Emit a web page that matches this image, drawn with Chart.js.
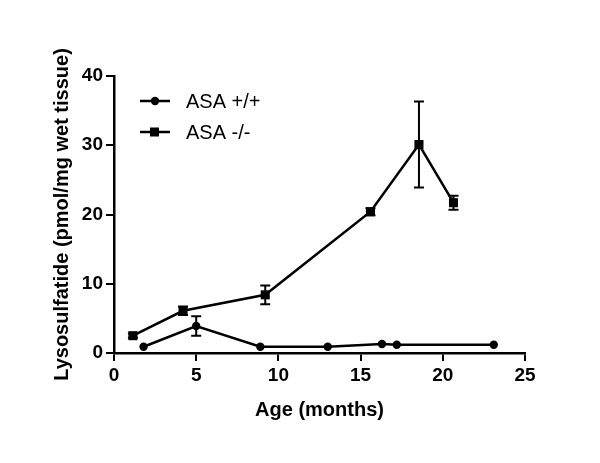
<!DOCTYPE html>
<html>
<head>
<meta charset="utf-8">
<script src="https://cdn.jsdelivr.net/npm/chart.js@4/dist/chart.umd.min.js"></script>
<style>
    html, body { margin: 0; padding: 0; background: #fff; }
    #wrap { width: 600px; height: 463px; }
</style>
</head>
<body>
<div id="wrap"><canvas id="lysoChart"></canvas></div>
<script>

// ASA +/+
const wtAge = [1.8, 5.0, 8.9, 13.0, 16.3, 17.2, 23.1];
const wtValue = [0.9, 3.9, 0.9, 0.9, 1.3, 1.2, 1.2];
const wtError = [0, 1.4, 0, 0, 0, 0, 0];

// ASA -/-
const koAge = [1.15, 4.2, 9.2, 15.6, 18.55, 20.65];
const koValue = [2.5, 6.1, 8.4, 20.4, 30.1, 21.7];
const koError = [0.3, 0.6, 1.35, 0.5, 6.2, 1.0];

const seriesLabels = ['ASA +/+', 'ASA -/-'];
const xTicks = [0, 5, 10, 15, 20, 25];
const yTicks = [0, 10, 20, 30, 40];

const toPoints = (xs, ys) => xs.map((x, i) => ({ x: x, y: ys[i] }));

const fontFamily = 'Arial, "Liberation Sans", Helvetica, sans-serif';


// Error bars, drawn through the scales
const errorBars = {
    id: 'errorBars',
    afterDatasetsDraw(chart) {
        const { ctx, scales: { x, y } } = chart;
        ctx.save();
        ctx.strokeStyle = '#000';
        ctx.lineWidth = 2;
        chart.data.datasets.forEach(ds => {
            ds.data.forEach((p, i) => {
                const err = ds.errors[i];
                if (!err) return;
                const px = x.getPixelForValue(p.x);
                const top = y.getPixelForValue(p.y + err);
                const bot = y.getPixelForValue(p.y - err);
                ctx.beginPath();
                ctx.moveTo(px, top);
                ctx.lineTo(px, bot);
                ctx.moveTo(px - 5, top);
                ctx.lineTo(px + 5, top);
                ctx.moveTo(px - 5, bot);
                ctx.lineTo(px + 5, bot);
                ctx.stroke();
            });
        });
        ctx.restore();
    }
};

// Legend inside the plot, line + marker
const insideLegend = {
    id: 'insideLegend',
    afterDraw(chart) {
        const { ctx } = chart;
        ctx.save();
        chart.data.datasets.forEach((ds, i) => {
            const cy = 101 + i * 31;
            ctx.strokeStyle = '#000';
            ctx.lineWidth = 2.5;
            ctx.beginPath();
            ctx.moveTo(140, cy);
            ctx.lineTo(170, cy);
            ctx.stroke();
            ctx.fillStyle = '#000';
            if (ds.pointStyle === 'rect') {
                ctx.fillRect(150, cy - 4.5, 9, 9);
            } else {
                ctx.beginPath();
                ctx.arc(155, cy, 4.2, 0, Math.PI * 2);
                ctx.fill();
            }
            ctx.font = '20px ' + fontFamily;
            ctx.textBaseline = 'middle';
            ctx.fillText(ds.label, 186, cy + 1);
        });
        ctx.restore();
    }
};


const axisCommon = {
    grid: {
        drawOnChartArea: false,
        drawTicks: true,
        tickLength: 8,
        color: '#000',
        lineWidth: 2
    },
    border: { color: '#000', width: 2.5 },
    ticks: {
        color: '#000',
        font: { family: fontFamily, size: 19, weight: 'bold' }
    }
};

new Chart(document.getElementById('lysoChart'), {
    type: 'scatter',
    data: {
        datasets: [
            {
                label: seriesLabels[0],
                data: toPoints(wtAge, wtValue),
                errors: wtError,
                showLine: true,
                borderColor: '#000',
                backgroundColor: '#000',
                borderWidth: 2.5,
                pointStyle: 'circle',
                pointRadius: 4.2,
                pointBorderWidth: 0,
                tension: 0
            },
            {
                label: seriesLabels[1],
                data: toPoints(koAge, koValue),
                errors: koError,
                showLine: true,
                borderColor: '#000',
                backgroundColor: '#000',
                borderWidth: 2.5,
                pointStyle: 'rect',
                pointRadius: 6.4,
                pointBorderWidth: 0,
                tension: 0
            }
        ]
    },
    options: {
        responsive: true,
        maintainAspectRatio: false,
        animation: false,
        layout: {
            padding: { left: 0, right: 75, top: 76, bottom: 0 }
        },
        plugins: {
            legend: { display: false },
            tooltip: { enabled: false }
        },
        scales: {
            x: {
                ...axisCommon,
                type: 'linear',
                min: 0,
                max: 25,
                afterBuildTicks: s => { s.ticks = xTicks.map(v => ({ value: v })); },
                afterFit: s => { s.height = 110; },
                ticks: { ...axisCommon.ticks, padding: 3 },
                title: {
                    display: true,
                    text: 'Age (months)',
                    color: '#000',
                    font: { family: fontFamily, size: 20, weight: 'bold' },
                    padding: { top: 0, bottom: 41 }
                }
            },
            y: {
                ...axisCommon,
                type: 'linear',
                min: 0,
                max: 40,
                afterBuildTicks: s => { s.ticks = yTicks.map(v => ({ value: v })); },
                afterFit: s => { s.width = 114; },
                ticks: { ...axisCommon.ticks, padding: 3 },
                title: {
                    display: true,
                    text: 'Lysosulfatide (pmol/mg wet tissue)',
                    color: '#000',
                    font: { family: fontFamily, size: 20, weight: 'bold' },
                    padding: { top: 50, bottom: 0 }
                }
            }
        }
    },
    plugins: [errorBars, insideLegend]
});

</script>
</body>
</html>
